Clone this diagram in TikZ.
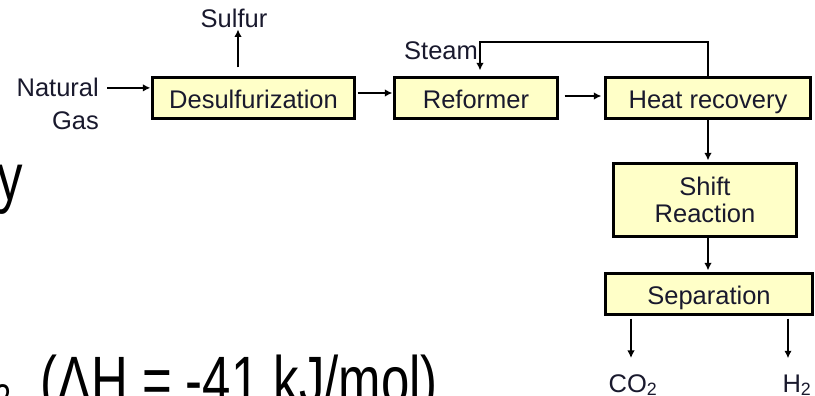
\documentclass[tikz,border=0pt]{standalone}
\usepackage{fontspec}
\setmainfont{Liberation Sans}
\usetikzlibrary{arrows.meta}
\definecolor{boxfill}{RGB}{255,255,200}
\definecolor{txt}{RGB}{25,25,45}
\begin{document}
\begin{tikzpicture}[x=1pt,y=-1pt,
  procbase/.style={draw=black, line width=2.2pt, fill=boxfill, minimum height=41pt, inner sep=0pt,
    font=\fontsize{25.5}{28}\selectfont, text=txt, align=center},
  proc/.style={procbase, text height=21pt, text depth=0pt},
  lbl/.style={inner sep=1pt, font=\fontsize{25.5}{28}\selectfont, text=txt},
  flow/.style={line width=2pt, -{Latex[length=7.5pt,width=7.5pt]}},
  big/.style={inner sep=0pt, font=\fontsize{67}{70}\selectfont, text=black}]
\useasboundingbox (0,0) rectangle (815,396);

% process boxes
\node[proc, minimum width=202pt] (desulf) at (253.5,98) {Desulfurization};
\node[proc, minimum width=163pt] (reform) at (476,98) {Reformer};
\node[proc, minimum width=205pt] (heat) at (708,98) {Heat recovery};
\node[procbase, minimum width=183pt, minimum height=73pt, font=\fontsize{25.5}{27}\selectfont] (shift) at (705,200) {Shift\\Reaction};
\node[proc, minimum width=207pt] (sep) at (709,294) {Separation};

% labels
\node[lbl, anchor=base east] (nat) at (100,97) {Natural};
\node[lbl, anchor=base east] (gas) at (100,130) {Gas};
\node[lbl, anchor=base] (sul) at (234,28) {Sulfur};
\node[lbl, anchor=base] (steam) at (441,60) {Steam};
\node[lbl, anchor=base] (co2) at (633,392) {CO\textsubscript{2}};
\node[lbl, anchor=base] (h2) at (797,392) {H\textsubscript{2}};

% connectors
\draw[flow, shorten <=7pt, shorten >=1pt] (nat.east) -- (nat.east -| desulf.west);
\draw[flow, shorten <=9pt] ([xshift=-15.5pt]desulf.north) -- ([xshift=-15.5pt]desulf.north |- sul.south);
\draw[flow, shorten <=2pt, shorten >=1pt] ([yshift=5pt]desulf.east) -- ([yshift=5pt]reform.west);
\draw[flow, shorten <=6pt, shorten >=3pt] ([yshift=2pt]reform.east) -- ([yshift=2pt]heat.west);
\draw[flow, shorten >=6pt] (heat.north) -- ([yshift=-1pt]heat.north |- steam.north) -| ([xshift=4pt]reform.north);
\draw[flow, shorten >=2pt] (heat.south) -- (heat.south |- shift.north);
\draw[flow, shorten >=2pt] (heat.south |- shift.south) -- (heat.south |- sep.north);
\draw[flow, shorten <=3pt, shorten >=15pt] ([xshift=-78pt]sep.south) -- ([xshift=-78pt]sep.south |- co2.north);
\draw[flow, shorten <=3pt, shorten >=15pt] ([xshift=79pt]sep.south) -- ([xshift=79pt]sep.south |- h2.north);

% cut-off slide text
\node[big, anchor=base west] (eq) at (40,403) {\scalebox{0.76}[1]{(ΛH = -41 kJ/mol)}};
\node[big, anchor=base east] (yy) at (23,200) {\scalebox{0.76}[1]{y}};
\node[inner sep=0pt, font=\fontsize{40}{40}\selectfont, anchor=base east] (sub) at (12,412) {\scalebox{0.76}[1]{2}};
\end{tikzpicture}
\end{document}
